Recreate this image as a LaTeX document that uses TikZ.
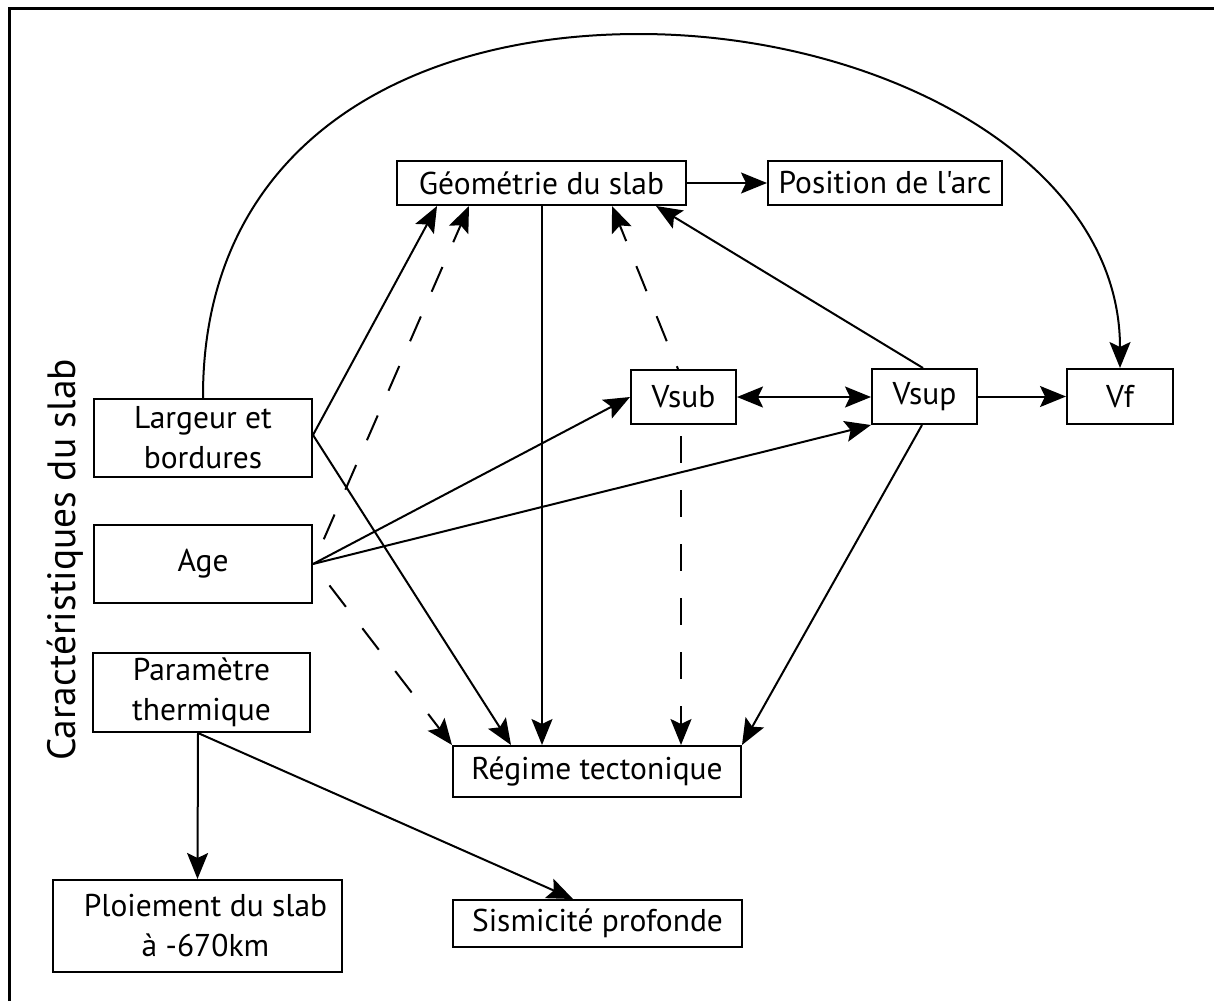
\documentclass[tikz,border=0pt]{standalone}
\usepackage{fontspec}
\setmainfont{PT Sans}[Ligatures=TeXOff]
\usetikzlibrary{arrows.meta,calc}
\begin{document}
\begin{tikzpicture}[x=1pt,y=-1pt,
  >={Stealth[length=26pt,width=21pt,inset=5pt]},
  box/.style={draw, line width=2pt, inner sep=0pt, align=center,
    font=\fontsize{31.5}{40}\selectfont},
  arr/.style={line width=2pt, ->},
  dsh/.style={dash pattern=on 27pt off 27pt}]
\useasboundingbox (0,0) rectangle (1214,1001);
\fill[white] (0,0) rectangle (1214,1001);
% frame
\draw[line width=3pt] (9.5,1001) -- (9.5,8.5) -- (1214,8.5);
% label
\node[rotate=90, anchor=base, font=\fontsize{39.5}{42}\selectfont] (lab) at (75,560) {Caractéristiques du slab};
% boxes
\node[box, minimum width=289pt, minimum height=44pt] (geo) at (541.5,183) {Géométrie du slab};
\node[box, minimum width=234pt, minimum height=44pt] (pos) at (885,183) {Position de l'arc};
\node[box, minimum width=105pt, minimum height=54pt] (vsub) at (683.5,397) {Vsub};
\node[box, minimum width=105pt, minimum height=55pt] (vsup) at (924.5,396.5) {Vsup};
\node[box, minimum width=106pt, minimum height=55pt] (vf) at (1120,396.5) {Vf};
\node[box, minimum width=218pt, minimum height=78pt] (larg) at (203,438) {Largeur et\\bordures};
\node[box, minimum width=218pt, minimum height=78pt] (age) at (203,564) {Age};
\node[box, minimum width=217pt, minimum height=79pt] (param) at (201.5,692.5) {Paramètre\\thermique};
\node[box, minimum width=289pt, minimum height=92pt] (ploi) at (197.5,926) {\hspace*{16pt}Ploiement du slab\\\hspace*{16pt}à -670km};
\node[box, minimum width=288pt, minimum height=51pt] (reg) at (597,771.5) {Régime tectonique};
\node[box, minimum width=289pt, minimum height=47pt] (sism) at (597.5,923.5) {Sismicité profonde};
% helper coordinates
\coordinate (largE) at ($(larg.east)+(0,-3)$);
\coordinate (vsubS) at ($(vsub.south)+(-2.5,0)$);
\coordinate (vsubN) at ($(vsub.north)+(-5.5,0)$);
\coordinate (vsupN) at ($(vsup.north)+(-1.5,0)$);
\coordinate (vsupS) at ($(vsup.south)+(-2.5,0)$);
\coordinate (paramS) at ($(param.south)+(-3.5,0)$);
\coordinate (geoS) at ($(geo.south)+(0.5,0)$);
% connectors
\draw[arr] (larg.north) .. controls (202,150) and (400,34) .. (639,34)
  .. controls (880,34) and (1120,160) .. (vf.north);
\draw[arr] (geo.east) -- (pos.west);
\draw[arr] (largE) -- ($(geo.south west)+(41,0)$);
\draw[arr, dsh, shorten <=27pt] (age.east) -- ($(geo.south west)+(73,0)$);
\draw[arr] (largE) -- ($(reg.north west)+(59,0)$);
\draw[arr] (geoS) -- (geoS |- reg.north);
\draw[arr, dsh, dash phase=24pt] (vsubN) -- ($(geo.south west)+(216,0)$);
\draw[arr] (vsupN) -- ($(geo.south west)+(260,0)$);
\draw[line width=2pt, <->] (vsub.east) -- (vsub.east -| vsup.west);
\draw[arr] (vsup.east) -- (vsup.east -| vf.west);
\draw[arr] (age.east) -- (vsub.west);
\draw[arr] (age.east) -- (vsup.south west);
\draw[arr, dsh, shorten <=27pt] (age.east) -- (reg.north west);
\draw[arr, dsh, dash phase=43pt] (vsubS) -- (vsubS |- reg.north);
\draw[arr] (vsupS) -- (reg.north east);
\draw[arr] (paramS) -- (ploi.north);
\draw[arr] (paramS) -- ($(sism.north west)+(121,0)$);
\end{tikzpicture}
\end{document}
